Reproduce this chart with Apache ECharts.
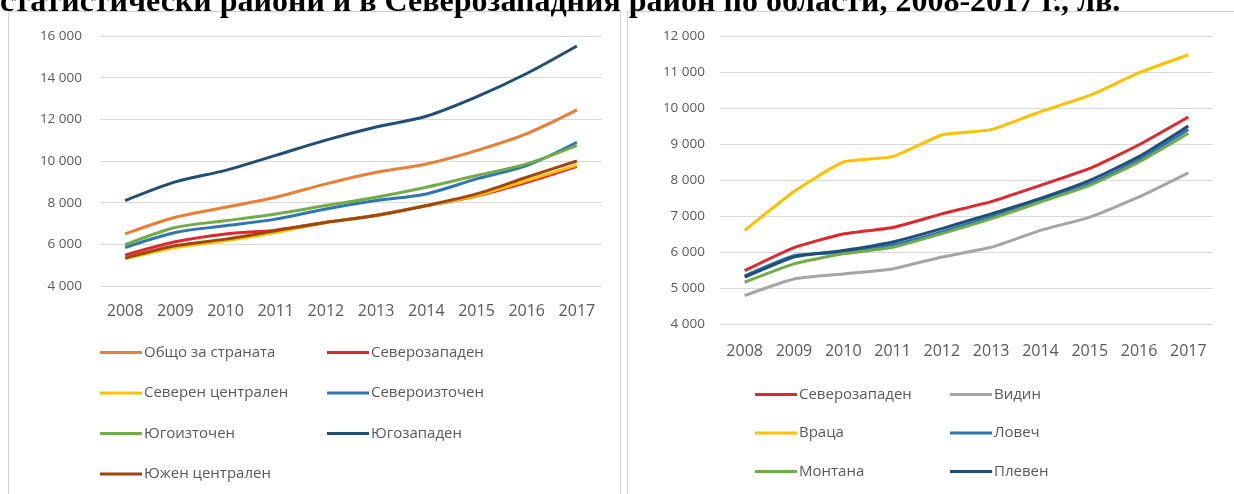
<!DOCTYPE html>
<html>
<head>
<meta charset="utf-8">
<script src="https://cdn.jsdelivr.net/npm/echarts@6/dist/echarts.min.js"></script>
<style>
  html, body { margin: 0; padding: 0; background: #fff; }
  #main { width: 1234px; height: 494px; }
</style>
</head>
<body>
<div id="main"></div>
<script>
// години
var years = ['2008', '2009', '2010', '2011', '2012', '2013', '2014', '2015', '2016', '2017'];

// лява графика - статистически райони
var leftNames = ['Общо за страната', 'Северозападен', 'Северен централен', 'Североизточен', 'Югоизточен', 'Югозападен', 'Южен централен'];
var obshto = [6500, 7300, 7780, 8260, 8900, 9460, 9860, 10500, 11310, 12450];
var severozapaden = [5480, 6120, 6500, 6680, 7060, 7400, 7850, 8320, 8980, 9750];
var severenCentralen = [5300, 5850, 6170, 6570, 7050, 7380, 7860, 8340, 9060, 9800];
var severoiztochen = [5850, 6570, 6890, 7210, 7700, 8100, 8420, 9140, 9780, 10900];
var yugoiztochen = [5980, 6810, 7130, 7460, 7860, 8260, 8740, 9300, 9860, 10750];
var yugozapaden = [8100, 9000, 9550, 10270, 11000, 11630, 12150, 13080, 14200, 15520];
var yuzhenCentralen = [5340, 5930, 6250, 6650, 7050, 7380, 7860, 8420, 9220, 10000];

// дясна графика - области в Северозападен район
var rightNames = ['Северозападен', 'Видин', 'Враца', 'Ловеч', 'Монтана', 'Плевен'];
var vidin = [4790, 5250, 5390, 5530, 5860, 6130, 6600, 6970, 7530, 8200];
var vraca = [6600, 7680, 8500, 8650, 9250, 9400, 9900, 10350, 10980, 11480];
var lovech = [5340, 5900, 5990, 6200, 6560, 6980, 7430, 7900, 8560, 9400];
var montana = [5160, 5670, 5950, 6130, 6510, 6920, 7390, 7850, 8500, 9300];
var pleven = [5300, 5860, 6040, 6280, 6650, 7060, 7490, 7990, 8650, 9500];

var leftTicks = { min: 4000, max: 16000, interval: 2000 };
var rightTicks = { min: 4000, max: 12000, interval: 1000 };

var leftColors = ['#ED7D31', '#E3262B', '#FFC000', '#2E75B6', '#70AD47', '#1F4E79', '#9E480E'];
var rightColors = ['#E3262B', '#A5A5A5', '#FFC000', '#2E75B6', '#70AD47', '#1F4E79'];
var leftData = [obshto, severozapaden, severenCentralen, severoiztochen, yugoiztochen, yugozapaden, yuzhenCentralen];
var rightData = [severozapaden, vidin, vraca, lovech, montana, pleven];

var labelColor = '#595959';
var gridColor = '#D9D9D9';
var font = '"Open Sans", sans-serif';

function fmt(v) {
  return String(v).replace(/\B(?=(\d{3})+(?!\d))/g, ' ');
}

function makeSeries(names, data, colors, idx, smooth) {
  return names.map(function (n, i) {
    return {
      name: n,
      type: 'line',
      xAxisIndex: idx,
      yAxisIndex: idx,
      data: data[i],
      smooth: smooth,
      symbol: 'none',
      lineStyle: { width: 3, color: colors[i] },
      itemStyle: { color: colors[i] }
    };
  });
}

function xAx(idx, margin) {
  return {
    type: 'category', gridIndex: idx, data: years, boundaryGap: true,
    axisLine: { show: false }, axisTick: { show: false },
    axisLabel: { color: labelColor, fontSize: 16, fontFamily: font, margin: margin, interval: 0 }
  };
}

function yAx(idx, t, margin) {
  return {
    type: 'value', gridIndex: idx, min: t.min, max: t.max, interval: t.interval,
    axisLine: { show: false }, axisTick: { show: false },
    splitLine: { lineStyle: { color: gridColor, width: 1 } },
    axisLabel: { color: labelColor, fontSize: 13.5, fontFamily: font, margin: margin, formatter: fmt }
  };
}

function legend(names, left, top, gap) {
  return {
    orient: 'vertical', left: left, top: top, itemGap: gap, padding: 0,
    itemWidth: 42, itemHeight: 3, icon: 'rect', data: names,
    textStyle: { color: labelColor, fontSize: 15, fontFamily: font, padding: [0, 0, 0, -3] }
  };
}

var myChart = echarts.init(document.getElementById('main'));
var option = {
  animation: false,
  color: leftColors,
  graphic: [
    { type: 'rect', shape: { x: 8.5, y: 11.5, width: 612, height: 500 }, style: { fill: 'none', stroke: '#D0D0D0', lineWidth: 1 } },
    { type: 'rect', shape: { x: 627.5, y: 11.5, width: 620, height: 500 }, style: { fill: 'none', stroke: '#D0D0D0', lineWidth: 1 } },
    {
      type: 'text', left: 0, top: -13,
      style: {
        text: 'статистически райони и в Северозападния район по области, 2008-2017 г., лв.',
        font: 'bold 32px "Liberation Serif", serif', fill: '#000'
      }
    }
  ],
  legend: [
    legend(['Общо за страната', 'Северен централен', 'Югоизточен', 'Южен централен'], 100, 345, 25.5),
    legend(['Северозападен', 'Североизточен', 'Югозападен'], 327, 345, 25.5),
    legend(['Северозападен', 'Враца', 'Монтана'], 755, 387, 23.5),
    legend(['Видин', 'Ловеч', 'Плевен'], 950, 387, 23.5)
  ],
  grid: [
    { left: 100, top: 36, width: 502, height: 250 },
    { left: 720, top: 36, width: 493, height: 288 }
  ],
  xAxis: [xAx(0, 17), xAx(1, 19)],
  yAxis: [yAx(0, leftTicks, 18), yAx(1, rightTicks, 15)],
  series: makeSeries(leftNames, leftData, leftColors, 0, 0.3)
    .concat(makeSeries(rightNames, rightData, rightColors, 1, 0.15))
};
myChart.setOption(option);
</script>
</body>
</html>
